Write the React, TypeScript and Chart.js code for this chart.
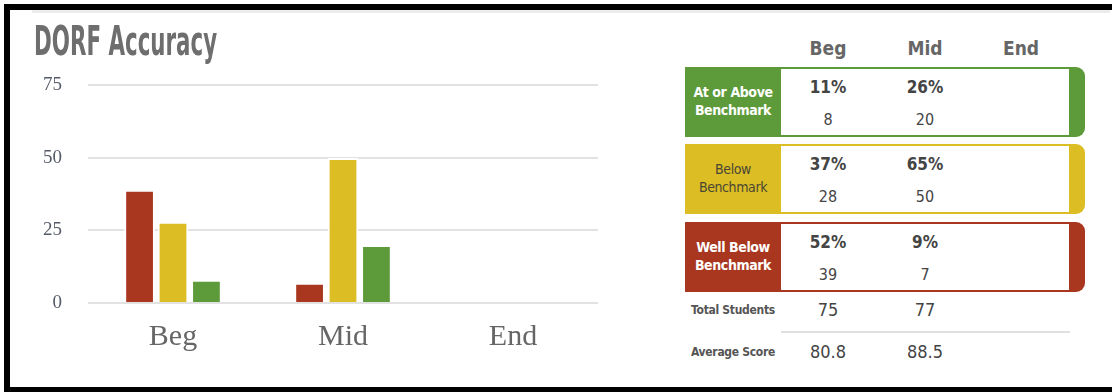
import React, { useEffect, useLayoutEffect, useRef } from "react";
import { Chart, registerables } from "chart.js";

Chart.register(...registerables);

// Benchmark results per assessment window
const periods = ["Beg", "Mid", "End"];
const wellBelowCounts = [39, 7, null];
const belowCounts = [28, 50, null];
const aboveCounts = [8, 20, null];
const wellBelowPct = [52, 9, null];
const belowPct = [37, 65, null];
const abovePct = [11, 26, null];
const totalStudents = [75, 77, null];
const averageScore = [80.8, 88.5, null];
const yTicks = [0, 25, 50, 75];

const RED = "#a9371f";
const YELLOW = "#dcbe24";
const GREEN = "#5c9a3a";

const SERIF = "'Liberation Serif', 'Times New Roman', serif";
const COND = "'Liberation Sans Narrow', 'DejaVu Sans Condensed', 'Roboto', sans-serif";

// squeezes a single line of text to an exact width
function FitText({ text, width, style }: { text: string; width: number; style: React.CSSProperties }) {
  const ref = useRef<HTMLSpanElement>(null);
  useLayoutEffect(() => {
    const el = ref.current;
    if (!el) return;
    el.style.transform = "none";
    const w = el.scrollWidth;
    if (w > 0) el.style.transform = `scaleX(${width / w})`;
  }, [text, width]);
  return (
    <span
      ref={ref}
      style={{ ...style, display: "inline-block", whiteSpace: "nowrap", transformOrigin: "left top" }}
    >
      {text}
    </span>
  );
}

function AccuracyChart() {
  const ref = useRef<HTMLCanvasElement>(null);
  useEffect(() => {
    if (!ref.current) return;
    const chart = new Chart(ref.current, {
      type: "bar",
      data: {
        labels: periods,
        datasets: [
          { label: "Well Below Benchmark", data: wellBelowCounts, backgroundColor: RED },
          { label: "Below Benchmark", data: belowCounts, backgroundColor: YELLOW },
          { label: "At or Above Benchmark", data: aboveCounts, backgroundColor: GREEN },
        ],
      },
      options: {
        animation: false,
        responsive: false,
        maintainAspectRatio: false,
        layout: { padding: { top: 7, right: 12, left: 0, bottom: 0 } },
        plugins: { legend: { display: false }, tooltip: { enabled: false } },
        datasets: {
          bar: {
            barPercentage: 0.92,
            categoryPercentage: 0.59,
            borderWidth: 2,
            borderColor: "#ffffff",
            borderSkipped: "start",
          },
        },
        scales: {
          x: {
            grid: { display: false },
            border: { display: false },
            ticks: { font: { family: SERIF, size: 30 }, color: "#666", padding: 8 },
            afterFit: (s: any) => {
              s.height = 69;
            },
          },
          y: {
            min: 0,
            max: 75,
            afterBuildTicks: (s: any) => {
              s.ticks = yTicks.map((v) => ({ value: v }));
            },
            grid: { color: "#e2e2e2", lineWidth: 2, drawTicks: false },
            border: { display: false },
            ticks: { font: { family: SERIF, size: 19 }, color: "#555b68", padding: 26 },
            afterFit: (s: any) => {
              s.width = 78;
            },
          },
        },
      },
    });
    return () => chart.destroy();
  }, []);
  return (
    <canvas
      ref={ref}
      width={600}
      height={324}
      style={{ position: "absolute", left: 10, top: 48, width: 600, height: 324 }}
    />
  );
}

// text centred on a point
function Cell({ cx, cy, children, style }: { cx: number; cy: number; children: React.ReactNode; style?: React.CSSProperties }) {
  return (
    <div
      style={{
        position: "absolute",
        left: cx - 60,
        top: cy - 12,
        width: 120,
        height: 24,
        lineHeight: "24px",
        textAlign: "center",
        whiteSpace: "nowrap",
        fontFamily: COND,
        ...style,
      }}
    >
      {children}
    </div>
  );
}

const colCenters = [828, 925, 1021];

function BenchmarkBlock({
  top,
  color,
  lines,
  labelColor,
  labelWeight,
  pct,
  counts,
}: {
  top: number;
  color: string;
  lines: string[];
  labelColor: string;
  labelWeight: number;
  pct: (number | null)[];
  counts: (number | null)[];
}) {
  const mid = top + 35;
  return (
    <>
      <div
        style={{
          position: "absolute",
          left: 685,
          top,
          width: 400,
          height: 70,
          background: color,
          borderRadius: "0 9px 9px 0",
        }}
      />
      <div style={{ position: "absolute", left: 781, top: top + 2, width: 288, height: 66, background: "#fff" }} />
      <div
        style={{
          position: "absolute",
          left: 685,
          top: mid - 19,
          width: 96,
          height: 36,
          lineHeight: "18px",
          textAlign: "center",
          color: labelColor,
          fontFamily: COND,
          fontWeight: labelWeight,
          fontSize: 14,
          letterSpacing: "-0.4px",
        }}
      >
        {lines.map((l) => (
          <div key={l}>{l}</div>
        ))}
      </div>
      {periods.map((p, i) =>
        pct[i] == null ? null : (
          <React.Fragment key={p}>
            <Cell cx={colCenters[i]} cy={top + 20} style={{ fontWeight: 700, fontSize: 17, color: "#444" }}>
              {pct[i]}%
            </Cell>
            <Cell cx={colCenters[i]} cy={top + 53} style={{ fontSize: 16, color: "#444" }}>
              {counts[i]}
            </Cell>
          </React.Fragment>
        )
      )}
    </>
  );
}

export default function App() {
  return (
    <div
      style={{
        position: "absolute",
        left: 0,
        top: 0,
        width: 1112,
        height: 392,
        overflow: "hidden",
        background: "#fff",
      }}
    >
      <div
        style={{
          position: "absolute",
          left: 4,
          top: 4,
          width: 1130,
          height: 389,
          boxSizing: "border-box",
          borderTop: "6px solid #000",
          borderLeft: "6px solid #000",
          borderBottom: "6px solid #000",
        }}
      />
      <div style={{ position: "absolute", left: 32, top: 10, width: 1078, height: 3, background: "#ececec" }} />

      <AccuracyChart />

      <div style={{ position: "absolute", left: 34, top: 19 }}>
        <FitText
          text="DORF Accuracy"
          width={183}
          style={{ fontFamily: COND, fontWeight: 700, fontSize: 40, color: "#6e6e6e", lineHeight: "44px" }}
        />
      </div>

      {periods.map((p, i) => (
        <Cell key={p} cx={colCenters[i]} cy={48} style={{ fontWeight: 700, fontSize: 19, color: "#666" }}>
          {p}
        </Cell>
      ))}

      <BenchmarkBlock
        top={67}
        color={GREEN}
        lines={["At or Above", "Benchmark"]}
        labelColor="#fff"
        labelWeight={700}
        pct={abovePct}
        counts={aboveCounts}
      />
      <BenchmarkBlock
        top={144}
        color={YELLOW}
        lines={["Below", "Benchmark"]}
        labelColor="#4a4636"
        labelWeight={400}
        pct={belowPct}
        counts={belowCounts}
      />
      <BenchmarkBlock
        top={222}
        color={RED}
        lines={["Well Below", "Benchmark"]}
        labelColor="#fff"
        labelWeight={700}
        pct={wellBelowPct}
        counts={wellBelowCounts}
      />

      <Cell cx={733} cy={310} style={{ fontSize: 12, fontWeight: 700, color: "#555", letterSpacing: "-0.3px" }}>
        Total Students
      </Cell>
      {periods.map((p, i) =>
        totalStudents[i] == null ? null : (
          <Cell key={p} cx={colCenters[i]} cy={310} style={{ fontSize: 18, color: "#444" }}>
            {totalStudents[i]}
          </Cell>
        )
      )}
      <div style={{ position: "absolute", left: 781, top: 331, width: 289, height: 2, background: "#e0e0e0" }} />
      <Cell cx={733} cy={352} style={{ fontSize: 12, fontWeight: 700, color: "#555", letterSpacing: "-0.3px" }}>
        Average Score
      </Cell>
      {periods.map((p, i) =>
        averageScore[i] == null ? null : (
          <Cell key={p} cx={colCenters[i]} cy={352} style={{ fontSize: 18, color: "#444" }}>
            {averageScore[i]!.toFixed(1)}
          </Cell>
        )
      )}
    </div>
  );
}
